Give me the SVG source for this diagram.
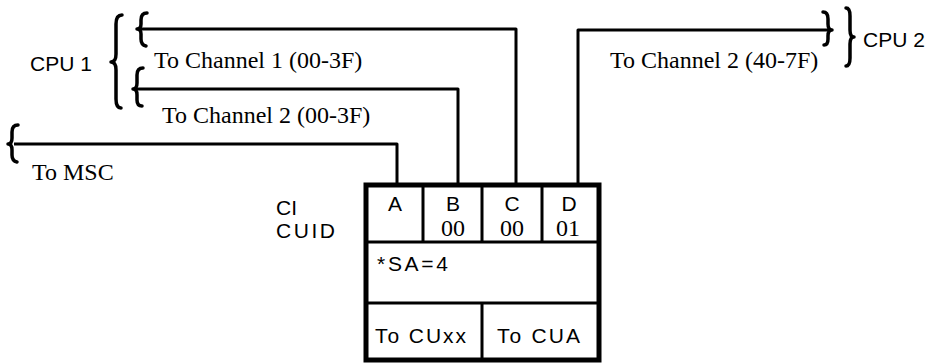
<svg xmlns="http://www.w3.org/2000/svg" width="933" height="364" viewBox="0 0 933 364">
<style>
.ser{font-family:"Liberation Serif","Times New Roman",serif;font-size:24px;fill:#000}
.san{font-family:"Liberation Sans",Arial,sans-serif;font-size:21px;fill:#000}
.ctr{text-anchor:middle}
.wire{fill:none;stroke:#000;stroke-width:3;stroke-linejoin:round}
.brace{fill:none;stroke:#000;stroke-width:3.5;stroke-linecap:round;stroke-linejoin:round}
.outer{fill:#fff;stroke:#000;stroke-width:5}
.div{stroke:#000;stroke-width:3;fill:none}
</style>
<rect width="933" height="364" fill="#fff"/>
<g id="connectors">
  <path class="wire" d="M14,144 H397 V185"/>
  <path class="wire" d="M137,89 H458 V185"/>
  <path class="wire" d="M140,29 H516 V185"/>
  <path class="wire" d="M578,185 V30 H831"/>
</g>
<g id="braces">
  <path class="brace" d="M147,13 Q141,13 141,20 L141,24 Q141,29 137,29 Q141,29 141,34 L141,39 Q141,45 146,46"/>
  <path class="brace" d="M143,68 Q137,68 137,75 L137,83 Q137,89 133,89 Q137,89 137,95 L137,100 Q137,106 142,106"/>
  <path class="brace" d="M18,125 Q12,125 12,132 L12,138 Q12,144 8,144 Q12,144 12,150 L12,155 Q12,161 17,162"/>
  <path class="brace" d="M122,15 Q116,15 116,24 L116,54 Q116,62 111,62 Q116,62 116,70 L116,99 Q116,108 121,108"/>
  <path class="brace" d="M823,12 Q828,12 828,19 L828,24 Q828,30 832,30 Q828,30 828,36 L828,39 Q828,45 824,45"/>
  <path class="brace" d="M846,8 Q850,8 850,16 L850,30 Q850,37 854,37 Q850,37 850,44 L850,58 Q850,66 846,66"/>
</g>
<g id="cpu1">
  <text class="san" x="30" y="71">CPU 1</text>
</g>
<g id="cpu2">
  <text class="san" x="863" y="47">CPU 2</text>
</g>
<g id="labels">
  <text class="ser" x="154" y="68">To Channel 1 (00-3F)</text>
  <text class="ser" x="162" y="123">To Channel 2 (00-3F)</text>
  <text class="ser" x="610" y="68">To Channel 2 (40-7F)</text>
  <text class="ser" x="32" y="180">To MSC</text>
</g>
<g id="ci-cuid">
  <text class="san" x="276" y="215" font-size="20">CI</text>
  <text class="san" x="276" y="238" font-size="20" textLength="59" lengthAdjust="spacing">CUID</text>
</g>
<g id="control-unit">
  <rect class="outer" x="366" y="185" width="233" height="175"/>
  <path class="div" d="M366,242 H599 M366,303 H599 M423,185 V242 M482,185 V242 M542,185 V242 M482,303 V360"/>
  <text class="san ctr" x="395" y="211" font-size="19">A</text>
  <text class="san ctr" x="453" y="211" font-size="19">B</text>
  <text class="san ctr" x="512" y="211" font-size="19">C</text>
  <text class="san ctr" x="569" y="211" font-size="19">D</text>
  <text class="ser ctr" x="453" y="236" font-size="17">00</text>
  <text class="ser ctr" x="512" y="236" font-size="17">00</text>
  <text class="ser ctr" x="568" y="236" font-size="17">01</text>
  <text class="san" x="377" y="271" font-size="22" textLength="71" lengthAdjust="spacing">*SA=4</text>
  <text class="san" x="375" y="343" font-size="22" textLength="91" lengthAdjust="spacing">To CUxx</text>
  <text class="san" x="497" y="343" font-size="22" textLength="83" lengthAdjust="spacing">To CUA</text>
</g>
</svg>
